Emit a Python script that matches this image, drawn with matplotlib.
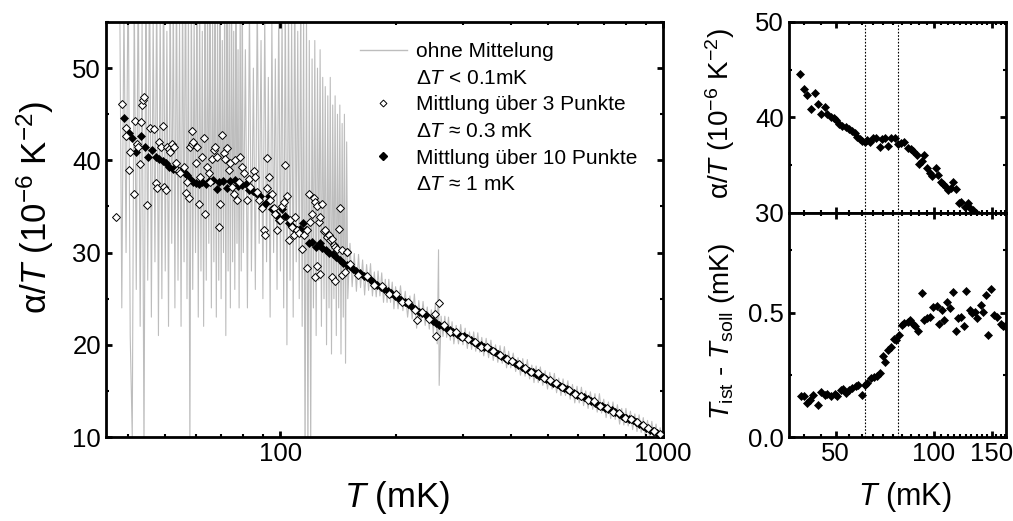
import matplotlib
matplotlib.use("Agg")
import matplotlib.pyplot as plt
from matplotlib.lines import Line2D
from matplotlib.ticker import NullFormatter

plt.rcParams['font.family'] = ['Liberation Sans', 'DejaVu Sans']
plt.rcParams['mathtext.fontset'] = 'custom'
plt.rcParams['mathtext.rm'] = 'Liberation Sans'
plt.rcParams['mathtext.it'] = 'Liberation Sans:italic'
plt.rcParams['mathtext.bf'] = 'Liberation Sans:bold'

# --- Rohdaten ohne Mittelung (graue Linie), T in mK, alpha/T in 1e-6 K^-2
T_roh = [38.0, 38.5, 39.0, 39.5, 40.0, 40.5, 41.0, 41.5, 42.0, 42.5, 43.0, 43.5, 44.0, 44.5,
         45.0, 45.5, 46.0, 46.5, 47.0, 47.5, 48.0, 48.5, 49.0, 49.5, 50.0, 50.5, 51.0, 51.5,
         52.0, 52.5, 53.0, 53.5, 54.0, 54.5, 55.0, 55.5, 56.0, 56.5, 57.0, 57.5, 58.0, 58.5,
         59.0, 59.5, 60.0, 60.5, 61.0, 61.5, 62.0, 62.5, 63.0, 63.5, 64.0, 64.5, 65.0, 65.5,
         66.0, 66.5, 67.0, 67.5, 68.0, 68.5, 69.0, 69.5, 70.0, 70.5, 71.0, 71.5, 72.0, 72.5,
         73.0, 73.5, 74.0, 74.5, 75.0, 75.5, 76.0, 76.5, 77.0, 77.5, 78.0, 78.5, 79.0, 79.5,
         80.0,
         81, 82, 83, 84, 85, 86, 87, 88, 89, 90, 91, 92, 93, 94, 95, 96, 97, 98, 99, 100,
         101, 102, 103, 104, 105, 106, 107, 108, 109, 110, 111, 112, 113, 114, 115, 116, 117,
         118, 119, 120, 121, 122, 123, 124, 125, 126, 127, 128, 129, 130, 131, 132, 133, 134,
         135, 136, 137, 138, 139, 140, 141, 142, 143, 144, 145, 146, 147, 148, 149, 150,
         152, 154, 156, 158, 160, 162, 164, 166, 168, 170, 172, 174, 176, 178, 180, 182,
         184, 186, 188, 190, 192, 194, 196, 198, 200, 203, 206, 209, 212, 215, 218, 221,
         224, 227, 230, 233, 236, 239, 242, 245, 248, 251, 254, 257, 259, 260, 263, 266,
         269, 272, 275, 278, 281, 284, 288, 292, 296, 300, 304, 308, 312, 316, 320, 324,
         328, 332, 336, 340, 345, 350, 355, 360, 365, 370, 375, 380, 385, 390, 395, 400,
         406, 412, 418, 424, 430, 436, 442, 448, 454, 460, 466, 472, 478, 485, 492, 499,
         506, 513, 520, 527, 534, 541, 548, 556, 564, 572, 580, 588, 596, 604, 612, 620,
         628, 637, 646, 655, 664, 673, 682, 691, 700, 710, 720, 730, 740, 750, 760, 770,
         780, 790, 800, 811, 822, 833, 844, 855, 866, 877, 888, 899, 911, 923, 935, 947,
         959, 971, 983, 995]
a_roh = [60, 24, 57, 30, 62, 21, 10, 58, 26, 61, 22, 55, 8, 59,
         27, 63, 23, 56, 29, 60, 21, 57, 25, 62, 28, 54, 22, 60,
         31, 58, 24, 61, 27, 55, 22, 59, 29, 63, 25, 57, 8, 60,
         26, 56, 30, 61, 23, 58, 28, 54, 22, 60, 27, 57, 31, 62,
         24, 55, 29, 59, 23, 56, 27, 61, 25, 53, 30, 58, 21, 60,
         28, 55, 24, 62, 29, 54, 26, 59, 31, 52, 24, 57, 28, 60,
         30,
         52, 24, 57, 28, 50, 26, 58, 31, 53, 25, 56, 29, 49, 23, 55, 30, 51, 26, 57, 28,
         56, 24, 58, 20, 57, 27, 55, 23, 60, 29, 54, 25, 58, 22, 55, 6, 56, 6, 53, 8,
         51, 24, 53, 21, 50, 27, 52, 22, 49, 25, 48, 20, 47, 24, 49, 19, 46, 25, 47, 21,
         45, 24, 46, 19, 44, 23, 45, 18, 42, 25,
         31.0, 26.3, 29.9, 25.8, 29.8, 26.2, 29.2, 25.4, 28.7, 25.9, 28.8, 25.3, 27.9, 25.2, 28.0, 25.3,
         27.8, 24.6, 27.1, 24.6, 27.1, 24.6, 26.8, 23.9, 26.3, 23.9, 26.4, 23.7, 25.8, 23.0, 25.3, 22.8,
         25.5, 21.8, 24.8, 22.5, 24.7, 22.1, 24.1, 21.7, 23.8, 21.2, 24.5, 20.1, 30.3, 15.6, 23.1, 20.9,
         23.1, 20.8, 23.0, 20.5, 22.5, 20.1, 22.1, 20.1, 22.2, 20.0, 21.8, 19.6, 21.4, 19.5, 21.4, 19.3,
         21.3, 19.2, 20.8, 18.8, 20.7, 18.6, 20.5, 18.3, 20.0, 18.1, 19.9, 18.0, 19.8, 17.5, 19.3, 17.5,
         19.1, 17.1, 18.6, 16.7, 18.5, 16.6, 18.4, 16.3, 17.8, 15.9, 17.7, 15.9, 17.6, 15.6, 17.2, 15.2,
         17.0, 15.2, 16.9, 14.8, 16.4, 14.5, 16.3, 14.5, 16.1, 14.1, 15.7, 13.7, 15.5, 13.7, 15.4, 13.4,
         15.0, 13.1, 14.9, 13.0, 14.7, 12.7, 14.7, 12.6, 14.1, 12.1, 13.8, 12.0, 13.8, 11.9, 13.5, 11.4,
         13.1, 11.3, 13.1, 11.2, 12.8, 10.8, 12.5, 10.6, 12.4, 10.5, 12.1, 10.1, 11.8, 9.9, 11.7, 9.8,
         11.4, 9.3, 11.0, 9.5]

# --- Mittlung ueber 3 Punkte (offene Rauten)
T_3 = [37.1, 38.6, 39.6, 39.4, 40.4, 40.2, 41.4, 41.8, 42.2, 42.4, 42.9, 43.1, 43.5, 43.8,
       44.1, 44.9, 45.6, 46.7, 47.2, 47.6, 48.1, 48.6, 49.4, 49.6, 50.1, 50.6, 51.1, 51.6,
       52.1, 52.7, 53.2, 53.7, 54.3, 54.8, 55.9, 56.5, 57.1, 57.6, 58.2, 58.8, 58.8, 59.2,
       60.0, 60.6, 61.2, 61.8, 62.4, 63.1, 63.7, 64.3, 65.0, 65.6, 66.3, 67.0, 67.6, 68.3,
       69.0, 69.7, 70.4, 71.1, 71.8, 72.6, 73.3, 74.0, 74.8, 75.5, 76.3, 77.1, 77.8, 78.6,
       79.4, 80.2, 81.8, 82.6, 83.5, 85.2, 86.0, 86.9, 87.8, 89.6, 90.5, 91.4, 92.3, 92.3,
       93.2, 94.2, 95.1, 96.1, 97.0, 98.0, 99.0, 100.0, 101.0, 102.0, 103.1, 104.1, 105.1,
       106.2, 107.3, 108.3, 109.4, 110.5, 111.7, 113.9, 115.1, 117.4, 118.6, 119.8, 121.0,
       122.2, 123.4, 124.7, 125.9, 127.2, 128.5, 129.8, 131.1, 132.4, 133.8, 135.1, 136.5,
       137.8, 139.2, 140.6, 142.0, 143.4, 144.9, 149.3,
       117.4, 123.4, 127.2, 124.7, 136.5, 139.2, 144.9, 147.8, 149.3,
       152, 160, 168, 176, 184, 192, 200, 208, 216, 225, 227.5, 235, 244, 254, 255, 259,
       268, 278, 288, 298, 310, 322, 334, 346, 360, 374, 390, 404, 420, 436, 452, 470,
       488, 506, 526, 546, 568, 590, 612, 636, 660, 686, 712, 740, 768, 796, 826, 856,
       886, 916, 948, 980]
a_3 = [33.9, 46.1, 42.6, 43.5, 40.9, 39.0, 36.4, 44.3, 41.8, 41.5, 39.6, 44.2, 46.0, 46.6,
       46.9, 35.2, 43.5, 43.4, 37.5, 37.0, 42.0, 41.5, 43.7, 37.1, 36.8, 41.5, 41.2, 40.9,
       41.8, 41.5, 39.7, 39.0, 38.8, 38.6, 39.3, 36.5, 37.7, 35.9, 41.5, 41.8, 43.2, 42.0,
       39.7, 41.5, 35.3, 38.2, 40.4, 42.4, 34.2, 39.3, 38.6, 37.7, 40.2, 41.1, 41.5, 40.4,
       32.8, 35.3, 42.8, 40.8, 40.2, 41.3, 39.0, 39.7, 37.1, 36.4, 40.0, 35.7, 37.7, 40.4,
       39.3, 38.6, 35.7, 38.0, 37.1, 38.8, 38.2, 36.6, 35.7, 34.8, 32.4, 31.9, 40.3, 37.0,
       38.2, 35.7, 36.4, 34.8, 34.2, 32.4, 33.5, 33.5, 35.0, 35.5, 39.5, 36.1, 31.4,
       33.5, 32.8, 31.9, 33.9, 32.4, 32.1, 30.4, 31.9, 32.4, 36.4, 33.3, 34.2,
       35.9, 35.5, 35.0, 33.3, 33.9, 35.3, 32.3, 32.4, 31.7, 31.9, 31.4, 31.5,
       30.8, 30.6, 30.4, 32.6, 34.8, 30.3, 30.1,
       28.3, 27.4, 27.7, 28.5, 27.4, 26.9, 27.6, 27.9, 30.1,
       28.8, 27.6, 27.5, 26.5, 26.4, 25.5, 25.5, 24.6, 24.6, 23.8, 22.7, 23.6, 22.8, 23.3, 21.0, 24.5,
       22.1, 21.4, 21.4, 20.8, 20.6, 20.3, 19.8, 19.8, 19.3, 18.9, 18.5, 18.2, 17.9, 17.5, 17.0, 16.9,
       16.4, 16.2, 15.9, 15.4, 15.1, 14.7, 14.5, 14.0, 13.9, 13.4, 13.2, 12.7, 12.6, 12.1, 11.9, 11.6,
       11.3, 11.0, 10.7, 10.3]

# --- Mittlung ueber 10 Punkte (gefuellte Rauten)
T_10 = [39.0, 40.1, 41.0, 42.0, 43.3, 44.2, 45.2, 46.3, 47.2, 48.3, 49.4, 50.2, 51.2, 52.4,
        53.6, 54.9, 56.2, 57.1, 58.2, 59.2, 60.3, 61.3, 62.4, 63.9, 65.1, 66.5, 68.2, 69.3,
        71.0, 72.3, 74.0, 76.0, 77.5, 79.3, 81.2, 83.0, 84.9, 86.5, 88.5, 90.2, 91.7, 93.2,
        95.0, 97.2, 98.3, 101.1, 102.5, 105.0, 106.7, 108.4, 110.6, 112.4, 114.5, 116.4,
        119.1, 121.3, 124.2, 127.1, 128.6, 131.6,
        134, 137, 140, 143, 146, 149, 152, 155, 158, 161, 165, 168, 172, 175, 179, 183, 187,
        191, 195, 199, 203, 207, 212, 216, 221, 225, 230, 235, 240, 245, 250, 255, 260, 266,
        271, 277, 283, 289, 295, 301, 307, 314, 320, 327, 334, 341, 348, 355, 363, 370, 378,
        386, 394, 402, 411, 419, 428, 437, 446, 456, 465, 475, 485, 495, 506, 516, 527, 538,
        550, 561, 573, 585, 597, 610, 623, 636, 649, 663, 677, 691, 705, 720, 735, 751, 766,
        782, 799, 816, 833, 850, 868, 886, 905, 924, 943, 963, 983, 1000]
a_10 = [44.6, 43.0, 42.4, 40.9, 42.6, 41.4, 40.4, 41.1, 40.4, 40.1, 39.9, 39.7, 39.3, 39.1,
        39.0, 38.8, 38.6, 38.4, 38.0, 37.7, 37.5, 37.4, 37.6, 37.4, 37.8, 37.9, 36.9, 37.7,
        37.8, 37.0, 37.8, 37.9, 37.2, 37.3, 37.4, 36.8, 36.7, 36.5, 36.1, 35.1, 35.4, 36.1,
        34.7, 34.2, 33.9, 34.7, 34.0, 33.2, 33.0, 32.7, 32.4, 32.6, 33.2, 32.5,
        31.0, 31.1, 30.6, 31.0, 30.5, 30.3,
        30.0, 29.8, 29.5, 29.2, 28.9, 28.7, 28.5, 28.2, 28.0, 27.8, 27.5, 27.3, 27.0, 26.8, 26.5, 26.3, 26.0,
        25.8, 25.6, 25.3, 25.1, 24.9, 24.6, 24.4, 24.1, 23.9, 23.6, 23.4, 23.2, 22.9, 22.6, 22.4, 22.2, 22.0,
        21.8, 21.6, 21.4, 21.2, 21.0, 20.9, 20.7, 20.5, 20.3, 20.1, 20.0, 19.8, 19.6, 19.4, 19.2, 19.0, 18.8,
        18.6, 18.4, 18.2, 18.0, 17.8, 17.6, 17.4, 17.2, 17.0, 16.8, 16.6, 16.5, 16.3, 16.1, 15.9, 15.7, 15.5,
        15.3, 15.2, 15.0, 14.8, 14.6, 14.4, 14.3, 14.1, 13.9, 13.7, 13.5, 13.4, 13.2, 13.0, 12.9, 12.7, 12.5,
        12.3, 12.1, 12.0, 11.8, 11.6, 11.4, 11.2, 11.0, 10.8, 10.6, 10.4, 10.2, 10.0]

# --- Temperaturabweichung T_ist - T_soll (mK)
T_dev = [39.1, 40.1, 41.0, 41.7, 42.7, 44.2, 45.0, 46.3, 47.2, 48.5, 49.7, 50.6, 51.8, 52.6,
         53.6, 54.9, 56.2, 57.5, 58.6, 60.3, 61.3, 62.4, 64.2, 65.4, 66.9, 68.2, 69.6, 71.0,
         72.3, 74.0, 75.2, 76.6, 77.9, 79.7, 81.2, 83.0, 84.5, 86.1, 87.5, 89.6, 91.7, 93.2,
         95.0, 97.2, 99.5, 101.8, 103.6, 105.5, 107.5, 109.3, 111.8, 114.5, 116.4, 118.6,
         120.8, 123.3, 125.6, 128.6, 130.7, 133.2, 135.7, 138.9, 141.2, 143.9, 146.2, 149.7,
         152.5, 156.1, 159.9, 162.5, 165.2]
d_dev = [0.166, 0.163, 0.136, 0.150, 0.170, 0.130, 0.179, 0.170, 0.174, 0.163, 0.174, 0.163,
         0.190, 0.193, 0.176, 0.190, 0.197, 0.203, 0.210, 0.170, 0.210, 0.217, 0.237, 0.243,
         0.246, 0.259, 0.326, 0.303, 0.350, 0.361, 0.393, 0.388, 0.410, 0.451, 0.460, 0.464,
         0.471, 0.455, 0.444, 0.424, 0.580, 0.471, 0.477, 0.484, 0.521, 0.527, 0.455, 0.511,
         0.471, 0.544, 0.517, 0.584, 0.424, 0.477, 0.484, 0.444, 0.588, 0.511, 0.497, 0.504,
         0.477, 0.531, 0.504, 0.571, 0.410, 0.594, 0.491, 0.484, 0.455, 0.444, 0.447]

T_marker = [61.5, 77.5]

grau = '#bdbdbd'

fig = plt.figure(figsize=(10.13, 5.21), dpi=100)
ax = fig.add_axes([0.1046, 0.1612, 0.5499, 0.7965])
ax_o = fig.add_axes([0.7789, 0.5912, 0.2142, 0.3666])
ax_u = fig.add_axes([0.7789, 0.1612, 0.2142, 0.4300], sharex=ax_o)

# linkes Diagramm
ax.plot(T_roh, a_roh, color=grau, lw=0.8, zorder=1)
ax.plot(T_10, a_10, ls='none', marker='D', ms=4.4, mfc='black', mec='black', mew=0.5, zorder=2)
ax.plot(T_3, a_3, ls='none', marker='D', ms=4.3, mfc='white', mec='black', mew=0.7, zorder=3)
ax.set_xscale('log')
ax.set_xlim(35, 1000)
ax.set_ylim(10, 55)
ax.set_xticks([100, 1000])
ax.set_xticklabels(['100', '1000'])
ax.xaxis.set_minor_formatter(NullFormatter())
ax.set_yticks([10, 20, 30, 40, 50])
ax.set_yticks([15, 25, 35, 45, 55], minor=True)
ax.set_xlabel('$T$ (mK)', fontsize=25)
ax.xaxis.set_label_coords(0.522, -0.1)
ax.set_ylabel('α/$T$ (10$^{-6}$ K$^{-2}$)', fontsize=25)
ax.yaxis.set_label_coords(-0.09, 0.554)

leer = Line2D([], [], ls='none', marker='none')
griffe = [Line2D([], [], color=grau, lw=1.0), leer,
          Line2D([], [], ls='none', marker='D', ms=3.5, mfc='white', mec='black', mew=0.7), leer,
          Line2D([], [], ls='none', marker='D', ms=4, mfc='black', mec='black'), leer]
texte = ['ohne Mittelung', 'Δ$T$ < 0.1mK',
         'Mittlung über 3 Punkte', 'Δ$T$ ≈ 0.3 mK',
         'Mittlung über 10 Punkte', 'Δ$T$ ≈ 1 mK']
ax.legend(griffe, texte, loc='upper left', bbox_to_anchor=(0.456, 0.952), frameon=False,
          fontsize=15, handlelength=2.25, handletextpad=0.45, labelspacing=0.37,
          borderpad=0, borderaxespad=0)

# rechts oben
ax_o.plot(T_10, a_10, ls='none', marker='D', ms=4.5, mfc='black', mec='black', mew=0.5)
ax_o.set_ylim(30, 50)
ax_o.set_yticks([30, 40, 50])
ax_o.set_yticks([35, 45], minor=True)
ax_o.set_ylabel('α/$T$ (10$^{-6}$ K$^{-2}$)', fontsize=20)
ax_o.yaxis.set_label_coords(-0.24, 0.52)
ax_o.tick_params(labelbottom=False)

# rechts unten
ax_u.plot(T_dev, d_dev, ls='none', marker='D', ms=4.5, mfc='black', mec='black', mew=0.5)
ax_u.set_ylim(0, 0.9)
ax_u.set_yticks([0.0, 0.5])
ax_u.set_yticklabels(['0.0', '0.5'])
ax_u.set_yticks([0.25, 0.75], minor=True)
ax_u.set_ylabel('$T_{\\rm ist}$ - $T_{\\rm soll}$ (mK)', fontsize=20)
ax_u.yaxis.set_label_coords(-0.24, 0.47)
ax_u.set_xlabel('$T$ (mK)', fontsize=22)
ax_u.xaxis.set_label_coords(0.535, -0.19)

ax_o.set_xscale('log')
ax_o.set_xlim(36, 166)
ax_u.set_xticks([50, 100, 150])
ax_u.set_xticklabels(['50', '100', '150'])
ax_u.set_xticks(list(range(40, 170, 5)), minor=True)
ax_u.xaxis.set_minor_formatter(NullFormatter())
ax_o.xaxis.set_minor_formatter(NullFormatter())

for a in (ax_o, ax_u):
    for t in T_marker:
        a.axvline(t, color='black', ls=(0, (1.5, 1.5)), lw=0.8, zorder=0)

for a in (ax, ax_o, ax_u):
    for s in a.spines.values():
        s.set_linewidth(2.0)
    a.tick_params(which='both', direction='in', top=True, right=True, labelsize=18.5)
    a.tick_params(which='major', length=4.5, width=2.0)
    a.tick_params(which='minor', length=2.5, width=1.5)

fig.savefig('out.png', dpi=100)
